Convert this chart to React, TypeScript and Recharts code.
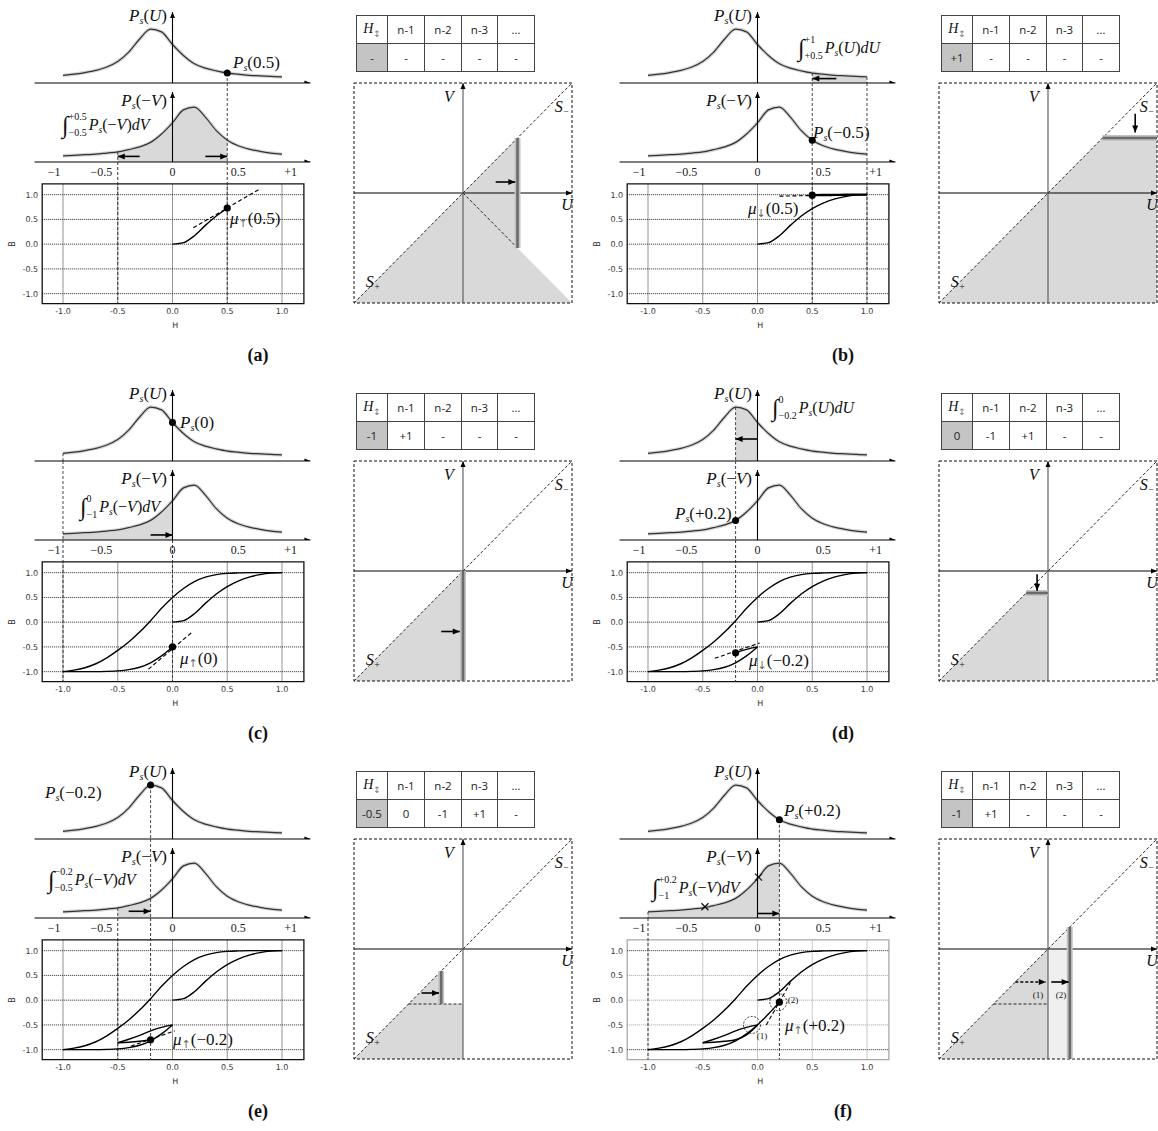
import React from 'react';
import {
  ComposedChart,
  Line,
  Area,
  Scatter,
  XAxis,
  YAxis,
  ReferenceLine,
  ReferenceArea,
  ReferenceDot,
} from 'recharts';

// Switching density P_s(U) (peak = 1)
const U_GRID = [-1, -0.9, -0.8, -0.7, -0.6, -0.5, -0.4, -0.3, -0.2, -0.1, 0, 0.1, 0.2, 0.3, 0.4, 0.5, 0.6, 0.7, 0.8, 0.9, 1];
const PS_U = [0.14, 0.16, 0.19, 0.23, 0.29, 0.39, 0.56, 0.8, 0.98, 0.93, 0.7, 0.5, 0.35, 0.27, 0.22, 0.18, 0.16, 0.14, 0.13, 0.12, 0.11];

const AXIS_TICK_POS = [-1.08, -0.65, 0, 0.6, 1.08];
const AXIS_TICK_LABELS = ['−1', '−0.5', '0', '0.5', '+1'];
const BH_TICKS = [-1, -0.5, 0, 0.5, 1];

// B-H branches
const VIRGIN_H = [0, 0.1, 0.2, 0.3, 0.4, 0.5, 0.6, 0.7, 0.8, 0.9, 1];
const VIRGIN_B = [0, 0.03, 0.17, 0.38, 0.57, 0.72, 0.83, 0.91, 0.96, 0.99, 1];
const DESC_H = U_GRID;
const DESC_B = [-1, -0.97, -0.92, -0.84, -0.72, -0.57, -0.4, -0.2, 0.03, 0.28, 0.5, 0.68, 0.82, 0.91, 0.96, 0.985, 0.995, 1, 1, 1, 1];
const ASC_H = [-1, -0.9, -0.8, -0.7, -0.6, -0.5, -0.4, -0.3, -0.2, -0.1, 0, 0.1, 0.2];
const ASC_B = [-1, -1, -1, -1, -0.995, -0.985, -0.96, -0.91, -0.82, -0.68, -0.5, -0.28, -0.04];
const MINOR_DESC_H = [-0.5, -0.4, -0.3, -0.2, -0.1, 0];
const MINOR_DESC_B = [-0.86, -0.79, -0.71, -0.62, -0.55, -0.5];
const MINOR_ASC_H = [-0.5, -0.4, -0.3, -0.2, -0.1, 0];
const MINOR_ASC_B = [-0.86, -0.85, -0.83, -0.8, -0.7, -0.5];
const REV_H = [0.5, 0.6, 0.7, 0.8, 0.9, 1];
const REV_B = [0.99, 0.993, 0.995, 0.997, 1, 1];

const BRANCH: Record<string, [number[], number[]]> = {
  virgin: [VIRGIN_H, VIRGIN_B],
  desc: [DESC_H, DESC_B],
  asc: [ASC_H, ASC_B],
  minorDesc: [MINOR_DESC_H, MINOR_DESC_B],
  minorAsc: [MINOR_ASC_H, MINOR_ASC_B],
  rev: [REV_H, REV_B],
};

// one entry per panel (a)..(f)
const PANEL_NAMES = ['(a)', '(b)', '(c)', '(d)', '(e)', '(f)'];
const TABLE_HEAD = ['n-1', 'n-2', 'n-3', '…'];
const TABLE_ROWS = [
  ['-', '-', '-', '-', '-'],
  ['+1', '-', '-', '-', '-'],
  ['-1', '+1', '-', '-', '-'],
  ['0', '-1', '+1', '-', '-'],
  ['-0.5', '0', '-1', '+1', '-'],
  ['-1', '+1', '-', '-', '-'],
];

const BH_BRANCHES: [string, number, number][][] = [
  [['virgin', 0, 0.5]],
  [['virgin', 0, 1], ['rev', 0.5, 1]],
  [['virgin', 0, 1], ['desc', -1, 1], ['asc', -1, 0]],
  [['virgin', 0, 1], ['desc', -1, 1], ['asc', -1, 0], ['minorDesc', -0.2, 0]],
  [['virgin', 0, 1], ['desc', -1, 1], ['asc', -1, 0], ['minorDesc', -0.5, 0], ['minorAsc', -0.5, -0.2]],
  [['virgin', 0, 1], ['desc', -1, 1], ['asc', -1, 0.2], ['minorDesc', -0.5, 0], ['minorAsc', -0.5, 0]],
];
const MU_POINTS = [[0.5, 0.73], [0.5, 0.99], [0, -0.5], [-0.2, -0.62], [-0.2, -0.8], [0.2, -0.04]];
const TANGENTS = [
  [0.19, 0.33, 0.8, 1.12],
  [0.2, 0.97, 0.8, 0.995],
  [-0.22, -0.95, 0.18, -0.2],
  [-0.39, -0.73, 0.02, -0.42],
  [-0.38, -0.93, 0.02, -0.62],
  [0.08, -0.5, 0.3, 0.35],
];
const F_CIRCLES = [[-0.05, -0.5], [0.19, -0.04]];
const F_XMARKS = [[-0.48, 0.2], [0.01, 0.73]];

// density panels: which chart is shaded, range, marked point
const SHADE_CHART = [2, 1, 2, 1, 2, 2];
const SHADE_FROM = [-0.5, 0.5, -1, -0.2, -0.5, -1];
const SHADE_TO = [0.5, 1, 0, 0, -0.2, 0.2];
const PS_POINT_CHART = [1, 2, 1, 2, 1, 1];
const PS_POINT_X = [0.5, 0.5, 0, -0.2, -0.2, 0.2];
const DROPS = [
  [{ h: 0.5, c: 1 }, { h: -0.5, c: 2 }],
  [{ h: 0.5, c: 1 }, { h: 1, c: 1 }],
  [{ h: -1, c: 1 }, { h: 0, c: 3 }],
  [{ h: -0.2, c: 1 }],
  [{ h: -0.2, c: 1 }, { h: -0.5, c: 2 }],
  [{ h: 0.2, c: 1 }, { h: -1, c: 2 }],
];
const P_ARROWS = [
  [{ c: 2, x1: -0.3, x2: -0.5, y: 0.1 }, { c: 2, x1: 0.3, x2: 0.5, y: 0.1 }],
  [{ c: 1, x1: 0.72, x2: 0.5, y: 0.08 }],
  [{ c: 2, x1: -0.2, x2: 0, y: 0.09 }],
  [{ c: 1, x1: 0, x2: -0.2, y: 0.4 }],
  [{ c: 2, x1: -0.4, x2: -0.2, y: 0.12 }],
  [{ c: 2, x1: 0, x2: 0.2, y: 0.08 }],
];

// Preisach plane
const PR_POLYS = [
  [[[-1, -1], [0.5, 0.5], [0.5, -0.5], [1, -1]]],
  [[[-1, -1], [0.5, 0.5], [1, 0.5], [1, -1]]],
  [[[-1, -1], [0, 0], [0, -1]]],
  [[[-1, -1], [-0.2, -0.2], [0, -0.2], [0, -1]]],
  [[[-1, -1], [-0.2, -0.2], [-0.2, -0.5], [0, -0.5], [0, -1]]],
  [[[-1, -1], [0, 0], [0, -1]], [[0, -1], [0, 0], [0.2, 0.2], [0.2, -1]]],
];
const PR_BARS = [[0.5, -0.5, 0.5, 0.5], [0.5, 0.5, 1, 0.5], [0, -1, 0, 0], [-0.2, -0.2, 0, -0.2], [-0.2, -0.5, -0.2, -0.2], [0.2, -1, 0.2, 0.2]];
const PR_DASHED = [[[0, 0, 0.5, -0.5]], [], [], [], [[-0.5, -0.5, 0, -0.5]], [[-0.5, -0.5, 0, -0.5]]];
const PR_ARROWS = [
  [[0.3, 0.1, 0.48, 0.1, 0]],
  [[0.8, 0.72, 0.8, 0.55, 0]],
  [[-0.2, -0.55, -0.03, -0.55, 0]],
  [[-0.1, -0.03, -0.1, -0.18, 0]],
  [[-0.38, -0.4, -0.22, -0.4, 0]],
  [[-0.3, -0.3, -0.02, -0.3, 1], [0.03, -0.3, 0.19, -0.3, 0]],
];

// text placement inside a panel (px)
const PT_LABELS = [
  { x: 233, y: 62, a: '0.5' },
  { x: 228, y: 132, a: '−0.5' },
  { x: 180, y: 44, a: '0' },
  { x: 90, y: 135, a: '+0.2' },
  { x: 45, y: 36, a: '−0.2' },
  { x: 199, y: 54, a: '+0.2' },
];
const INTEGRALS = [
  { x: 62, y: 125, lo: '−0.5', hi: '+0.5', v: 'V' },
  { x: 213, y: 48, lo: '+0.5', hi: '+1', v: 'U' },
  { x: 80, y: 129, lo: '−1', hi: '0', v: 'V' },
  { x: 187, y: 30, lo: '−0.2', hi: '0', v: 'U' },
  { x: 48, y: 124, lo: '−0.5', hi: '−0.2', v: 'V' },
  { x: 67, y: 132, lo: '−1', hi: '+0.2', v: 'V' },
];
const MU_LABELS = [
  { x: 230, y: 218, up: true, a: '0.5' },
  { x: 163, y: 208, up: false, a: '0.5' },
  { x: 180, y: 280, up: true, a: '0' },
  { x: 164, y: 282, up: false, a: '−0.2' },
  { x: 173, y: 283, up: true, a: '−0.2' },
  { x: 200, y: 269, up: true, a: '+0.2' },
];

const S = 109.5; // px per unit of H, left column
const H0 = 172.5; // x of H = 0 inside a panel
const COL_DX = 585;
const ROW_DY = 378;
const TOP_DOM: [number, number] = [-1.3, 1.3];
const TOP_LEFT = H0 + TOP_DOM[0] * S;
const TOP_W = (TOP_DOM[1] - TOP_DOM[0]) * S;
const BH_DOM: [number, number] = [-1.2, 1.25];
const BH_LEFT = H0 + BH_DOM[0] * S;
const BH_W = (BH_DOM[1] - BH_DOM[0]) * S;
const BH_YDOM: [number, number] = [-1.2, 1.66];
const BH_PH = (BH_YDOM[1] - BH_YDOM[0]) * 49.5;

const PS_ROWS_U = U_GRID.map((u, k) => ({ x: u, y: PS_U[k] }));
const PS_ROWS_V = U_GRID.map((u, k) => ({ x: -u, y: PS_U[k] })).reverse();
const valueAt = (rows: { x: number; y: number }[], x: number) =>
  rows.find((r) => Math.abs(r.x - x) < 1e-6)?.y ?? 0;

const MATH: React.CSSProperties = {
  fontFamily: "'Liberation Serif', 'DejaVu Serif', serif",
  fontStyle: 'italic',
  color: '#111',
};
const SANS = "'DejaVu Sans', sans-serif";

const Head = (props: any) => {
  const { cx, cy, payload } = props;
  if (cx == null || cy == null || !payload) return <g />;
  const L = payload.len ?? 7;
  const W = payload.w ?? 3;
  let pts = '';
  if (payload.dir === 'r') pts = `${cx},${cy} ${cx - L},${cy - W} ${cx - L},${cy + W}`;
  else if (payload.dir === 'l') pts = `${cx},${cy} ${cx + L},${cy - W} ${cx + L},${cy + W}`;
  else if (payload.dir === 'u') pts = `${cx},${cy} ${cx - W},${cy + L} ${cx + W},${cy + L}`;
  else pts = `${cx},${cy} ${cx - W},${cy - L} ${cx + W},${cy - L}`;
  return <polygon points={pts} fill={payload.col ?? '#000'} />;
};

const Cross = (props: any) => {
  const { cx, cy } = props;
  if (cx == null) return <g />;
  return (
    <g stroke="#111" strokeWidth={1.2}>
      <line x1={cx - 3.5} y1={cy - 3.5} x2={cx + 3.5} y2={cy + 3.5} />
      <line x1={cx - 3.5} y1={cy + 3.5} x2={cx + 3.5} y2={cy - 3.5} />
    </g>
  );
};

const dirOf = (x1: number, y1: number, x2: number, y2: number) =>
  x2 > x1 ? 'r' : x2 < x1 ? 'l' : y2 > y1 ? 'u' : 'd';

const seg = (key: string, x1: number, y1: number, x2: number, y2: number, stroke: string, width: number, dash?: string) => (
  <ReferenceLine
    key={key}
    segment={[{ x: x1, y: y1 }, { x: x2, y: y2 }]}
    stroke={stroke}
    strokeWidth={width}
    strokeDasharray={dash}
    ifOverflow="visible"
  />
);

function PsChart({ i, which }: { i: number; which: 1 | 2 }) {
  const rows = which === 1 ? PS_ROWS_U : PS_ROWS_V;
  const yTop = which === 1 ? 1.5 : 1.41;
  const shade =
    SHADE_CHART[i] === which
      ? rows.filter((r) => r.x >= SHADE_FROM[i] - 1e-6 && r.x <= SHADE_TO[i] + 1e-6)
      : [];
  const arrows = P_ARROWS[i].filter((a) => a.c === which);
  const heads = [
    { x: 1.26, y: 0, dir: 'r', len: 6, w: 2.5 },
    { x: 0, y: which === 1 ? 1.29 : 1.25, dir: 'u', len: 6, w: 2.5 },
    ...arrows.map((a) => ({ x: a.x2, y: a.y, dir: a.x2 > a.x1 ? 'r' : 'l' })),
  ];
  const height = which === 1 ? 86 : 100;
  return (
    <div style={{ position: 'absolute', left: 0, top: which === 1 ? 0 : 83 }}>
      <ComposedChart
        width={TOP_LEFT + TOP_W + 2}
        height={height}
        margin={which === 1 ? { top: 0.5, right: 2, bottom: 3, left: TOP_LEFT } : { top: 0, right: 2, bottom: 0, left: TOP_LEFT }}
      >
        <XAxis
          type="number"
          dataKey="x"
          domain={TOP_DOM}
          allowDataOverflow
          hide={which === 1}
          ticks={AXIS_TICK_POS}
          interval={0}
          tickFormatter={(v: number) => AXIS_TICK_LABELS[AXIS_TICK_POS.indexOf(v)] ?? ''}
          axisLine={false}
          tickLine={false}
          tickSize={0}
          tickMargin={5}
          height={21}
          tick={{ fontSize: 12, fill: '#222', fontFamily: "'Liberation Serif', serif" }}
        />
        <YAxis type="number" dataKey="y" domain={[0, yTop]} allowDataOverflow hide />
        {shade.length > 0 && (
          <Area
            data={shade}
            dataKey="y"
            type="monotone"
            baseValue={0}
            stroke="none"
            fill="#d9d9d9"
            fillOpacity={1}
            isAnimationActive={false}
          />
        )}
        <Line data={rows} dataKey="y" type="monotone" stroke="#d4d4d4" strokeWidth={3.5} dot={false} isAnimationActive={false} />
        <Line data={rows} dataKey="y" type="monotone" stroke="#333" strokeWidth={1.2} dot={false} isAnimationActive={false} />
        {DROPS[i].map((d, k) => {
          if (which === 1 && d.c === 1) return seg('d' + k, d.h, valueAt(PS_ROWS_U, d.h), d.h, 0, '#333', 0.9, '3 2');
          if (which === 2 && d.c === 1) return seg('d' + k, d.h, yTop, d.h, 0, '#333', 0.9, '3 2');
          if (which === 2 && d.c === 2) return seg('d' + k, d.h, valueAt(PS_ROWS_V, d.h), d.h, 0, '#333', 0.9, '3 2');
          return null;
        })}
        {seg('ax', -1.26, 0, 1.26, 0, '#000', 1.2)}
        {seg('ay', 0, 0, 0, which === 1 ? 1.29 : 1.25, '#000', 1.1)}
        {arrows.map((a, k) => seg('ar' + k, a.x1, a.y, a.x2, a.y, '#000', 1.6))}
        {i === 5 && which === 2 && (
          <Scatter data={F_XMARKS.map(([x, y]) => ({ x, y }))} shape={Cross} isAnimationActive={false} />
        )}
        <Scatter data={heads} shape={Head} isAnimationActive={false} />
        {PS_POINT_CHART[i] === which && (
          <ReferenceDot x={PS_POINT_X[i]} y={valueAt(rows, PS_POINT_X[i])} r={3.5} fill="#000" stroke="none" />
        )}
      </ComposedChart>
    </div>
  );
}

function BHChart({ i }: { i: number }) {
  const soft = i === 5;
  const tick = { fontSize: 8, fill: '#333', fontFamily: SANS };
  const [mx, my] = MU_POINTS[i];
  const t = TANGENTS[i];
  return (
    <div style={{ position: 'absolute', left: 0, top: 162 }}>
      <ComposedChart width={BH_LEFT + BH_W + 2} height={BH_PH + 26} margin={{ top: 0, right: 2, bottom: 0, left: 0 }}>
        <XAxis
          type="number"
          dataKey="x"
          domain={BH_DOM}
          allowDataOverflow
          ticks={BH_TICKS}
          interval={0}
          tickFormatter={(v: number) => v.toFixed(1)}
          axisLine={false}
          tickLine={false}
          tickSize={0}
          tickMargin={5}
          height={26}
          tick={tick}
          label={{ value: 'H', position: 'insideBottom', offset: 2, fontSize: 8, fill: '#333', fontFamily: SANS }}
        />
        <YAxis
          type="number"
          dataKey="y"
          domain={BH_YDOM}
          allowDataOverflow
          ticks={BH_TICKS}
          interval={0}
          tickFormatter={(v: number) => v.toFixed(1)}
          axisLine={false}
          tickLine={false}
          tickSize={0}
          tickMargin={3}
          width={BH_LEFT}
          tick={tick}
        />
        {BH_TICKS.map((b) =>
          seg('gh' + b, -1.19, b, 1.2, b, soft && Math.abs(b) !== 1 ? '#9a9a9a' : '#111', 0.9, '1 1'),
        )}
        {BH_TICKS.map((h) => seg('gv' + h, h, -1.2, h, 1.22, soft ? '#8a8a8a' : '#111', 0.9, '1 1'))}
        <ReferenceArea
          x1={-1.19}
          x2={1.2}
          y1={-1.2}
          y2={1.22}
          fill="none"
          fillOpacity={0}
          stroke={soft ? '#a8a8a8' : '#111'}
          strokeWidth={1.3}
          ifOverflow="visible"
        />
        {DROPS[i].map((d, k) => seg('dr' + k, d.h, BH_YDOM[1], d.h, -1.2, '#333', 1, '3 2'))}
        {BH_BRANCHES[i].map(([name, lo, hi], k) => {
          const [hs, bs] = BRANCH[name];
          const rows = hs
            .map((h, j) => ({ x: h, y: bs[j] }))
            .filter((r) => r.x >= lo - 1e-6 && r.x <= hi + 1e-6);
          return (
            <Line
              key={'br' + k}
              data={rows}
              dataKey="y"
              type="monotone"
              stroke="#000"
              strokeWidth={name === 'rev' ? 2.4 : 1.4}
              dot={false}
              isAnimationActive={false}
            />
          );
        })}
        {seg('tan', t[0], t[1], t[2], t[3], '#000', 1.1, '4 2.5')}
        <ReferenceDot x={mx} y={my} r={3.6} fill="#000" stroke="none" />
        {i === 5 &&
          F_CIRCLES.map(([x, y], k) => (
            <ReferenceDot key={'c' + k} x={x} y={y} r={8.5} fill="none" stroke="#333" strokeWidth={1} strokeDasharray="2 1.5" />
          ))}
      </ComposedChart>
    </div>
  );
}

function Preisach({ i }: { i: number }) {
  const arrows = PR_ARROWS[i];
  const heads = [
    { x: 1, y: 0, dir: 'r', len: 6, w: 2.5 },
    { x: 0, y: 1, dir: 'u', len: 6, w: 2.5 },
    ...arrows.map(([x1, y1, x2, y2]) => ({ x: x2, y: y2, dir: dirOf(x1, y1, x2, y2) })),
  ];
  const b = PR_BARS[i];
  return (
    <div style={{ position: 'absolute', left: 342, top: 71 }}>
      <ComposedChart width={242} height={244} margin={{ top: 12, right: 12, bottom: 12, left: 12 }}>
        <XAxis type="number" dataKey="x" domain={[-1, 1]} allowDataOverflow hide />
        <YAxis type="number" dataKey="y" domain={[-1, 1]} allowDataOverflow hide />
        {PR_POLYS[i].map((poly, k) => (
          <Area
            key={'p' + k}
            data={poly.map(([x, y]) => ({ x, y }))}
            dataKey="y"
            type="linear"
            baseValue={-1}
            stroke="none"
            fill={i === 5 && k === 1 ? '#efefef' : '#d9d9d9'}
            fillOpacity={1}
            isAnimationActive={false}
          />
        ))}
        <ReferenceArea x1={-1} x2={1} y1={-1} y2={1} fill="none" fillOpacity={0} stroke="#111" strokeWidth={1} strokeDasharray="3 2" ifOverflow="visible" />
        {seg('diag', -1, -1, 1, 1, '#111', 0.9, '3 2')}
        {PR_DASHED[i].map((d, k) => seg('pd' + k, d[0], d[1], d[2], d[3], '#111', 0.9, '3 2'))}
        {seg('u', -1, 0, 1, 0, '#000', 1.1)}
        {seg('v', 0, -1, 0, 1, '#555', 1.1)}
        {seg('barS', b[0], b[1], b[2], b[3], '#c2c2c2', 6)}
        {seg('bar', b[0], b[1], b[2], b[3], '#6a6a6a', 2.6)}
        {arrows.map((a, k) => seg('pa' + k, a[0], a[1], a[2], a[3], '#000', 1.6, a[4] ? '3 2' : undefined))}
        <Scatter data={heads} shape={Head} isAnimationActive={false} />
      </ComposedChart>
    </div>
  );
}

function StateTable({ i }: { i: number }) {
  const widths = [30, 36, 36, 35, 36];
  const cell = (w: number, bg = '#fff'): React.CSSProperties => ({
    width: w,
    minWidth: w,
    maxWidth: w,
    height: 27,
    border: '1px solid #444',
    textAlign: 'center',
    padding: 0,
    background: bg,
  });
  return (
    <table
      style={{
        position: 'absolute',
        left: 356,
        top: 15,
        borderCollapse: 'collapse',
        fontFamily: "'Open Sans', sans-serif",
        fontSize: 11.5,
        color: '#222',
        tableLayout: 'fixed',
      }}
    >
      <tbody>
        <tr>
          <td style={cell(widths[0])}>
            <span style={{ ...MATH, fontSize: 14 }}>
              H<sub style={{ fontSize: 9, fontStyle: 'normal', color: '#777', fontFamily: "'DejaVu Sans', sans-serif" }}>↕</sub>
            </span>
          </td>
          {TABLE_HEAD.map((h, k) => (
            <td key={k} style={cell(widths[k + 1])}>
              {h}
            </td>
          ))}
        </tr>
        <tr>
          {TABLE_ROWS[i].map((v, k) => (
            <td key={k} style={cell(widths[k], k === 0 ? '#c4c4c4' : '#fff')}>
              {v}
            </td>
          ))}
        </tr>
      </tbody>
    </table>
  );
}

const Up = ({ c }: { c: React.ReactNode }) => <span style={{ fontStyle: 'normal' }}>{c}</span>;
const Sub = ({ c }: { c: React.ReactNode }) => (
  <sub style={{ fontSize: '0.6em', verticalAlign: '-0.35em', lineHeight: 0 }}>{c}</sub>
);
const Ps = ({ arg }: { arg: React.ReactNode }) => (
  <span>
    P<Sub c="s" />
    <Up c="(" />
    {arg}
    <Up c=")" />
  </span>
);

const Txt = ({
  x,
  y,
  anchor = 'left',
  size = 17,
  children,
}: {
  x: number;
  y: number;
  anchor?: 'left' | 'right' | 'center';
  size?: number;
  children: React.ReactNode;
}) => (
  <div
    style={{
      position: 'absolute',
      left: x,
      top: y,
      transform: `translate(${anchor === 'right' ? '-100%' : anchor === 'center' ? '-50%' : '0'}, -50%)`,
      whiteSpace: 'nowrap',
      fontSize: size,
      lineHeight: 1,
      ...MATH,
    }}
  >
    {children}
  </div>
);

const Integral = ({ lo, hi, v }: { lo: string; hi: string; v: string }) => (
  <span style={{ display: 'inline-flex', alignItems: 'center' }}>
    <span style={{ fontSize: 24, fontStyle: 'normal', lineHeight: 1 }}>∫</span>
    <span
      style={{
        display: 'inline-flex',
        flexDirection: 'column',
        justifyContent: 'space-between',
        fontSize: 10,
        fontStyle: 'normal',
        lineHeight: 1,
        height: 26,
        marginRight: 2,
      }}
    >
      <span>{hi}</span>
      <span>{lo}</span>
    </span>
    {v === 'V' ? (
      <>
        <Ps arg={<><Up c="−" />V</>} />
        dV
      </>
    ) : (
      <>
        <Ps arg="U" />
        dU
      </>
    )}
  </span>
);

function Panel({ i }: { i: number }) {
  const ox = (i % 2) * COL_DX;
  const oy = Math.floor(i / 2) * ROW_DY;
  const it = INTEGRALS[i];
  const pt = PT_LABELS[i];
  const mu = MU_LABELS[i];
  return (
    <div style={{ position: 'absolute', left: ox, top: oy, width: COL_DX, height: ROW_DY }}>
      <PsChart i={i} which={1} />
      <PsChart i={i} which={2} />
      <BHChart i={i} />
      <StateTable i={i} />
      <Preisach i={i} />
      <Txt x={167} y={15} anchor="right">
        <Ps arg="U" />
      </Txt>
      <Txt x={167} y={100} anchor="right">
        <Ps arg={<><Up c="−" />V</>} />
      </Txt>
      <Txt x={it.x} y={it.y} size={16}>
        <Integral lo={it.lo} hi={it.hi} v={it.v} />
      </Txt>
      <Txt x={pt.x} y={pt.y}>
        <Ps arg={<Up c={pt.a} />} />
      </Txt>
      <Txt x={mu.x} y={mu.y}>
        μ
        <sub
          style={{
            fontSize: 11,
            verticalAlign: '-0.3em',
            lineHeight: 0,
            fontStyle: 'normal',
            color: '#666',
            fontFamily: "'DejaVu Sans', sans-serif",
          }}
        >
          {mu.up ? '↑' : '↓'}
        </sub>
        <Up c={`(${mu.a})`} />
      </Txt>
      <div
        style={{
          position: 'absolute',
          left: 12,
          top: 243.5,
          transform: 'translate(-50%, -50%) rotate(-90deg)',
          fontFamily: SANS,
          fontSize: 8,
          color: '#333',
        }}
      >
        B
      </div>
      <Txt x={449} y={97} anchor="center" size={16}>V</Txt>
      <Txt x={567} y={205} anchor="center" size={16}>U</Txt>
      <Txt x={562} y={107} anchor="center" size={16}>
        S<Sub c="−" />
      </Txt>
      <Txt x={373} y={282} anchor="center" size={16}>
        S<Sub c="+" />
      </Txt>
      {i === 5 && (
        <>
          <Txt x={453} y={239} anchor="center" size={9}><Up c="(1)" /></Txt>
          <Txt x={476} y={239} anchor="center" size={9}><Up c="(2)" /></Txt>
          <Txt x={177} y={280} anchor="center" size={9}><Up c="(1)" /></Txt>
          <Txt x={208} y={244} anchor="center" size={9}><Up c="(2)" /></Txt>
        </>
      )}
      <div
        style={{
          position: 'absolute',
          left: 258,
          top: 355,
          transform: 'translate(-50%, -50%)',
          fontFamily: "'Liberation Serif', serif",
          fontWeight: 'bold',
          fontSize: 18,
          color: '#111',
        }}
      >
        {PANEL_NAMES[i]}
      </div>
    </div>
  );
}

export default function App() {
  return (
    <div
      style={{
        position: 'absolute',
        left: 0,
        top: 0,
        width: 1158,
        height: 1131,
        overflow: 'hidden',
        background: '#fff',
      }}
    >
      {PANEL_NAMES.map((name, i) => (
        <Panel key={name} i={i} />
      ))}
    </div>
  );
}
